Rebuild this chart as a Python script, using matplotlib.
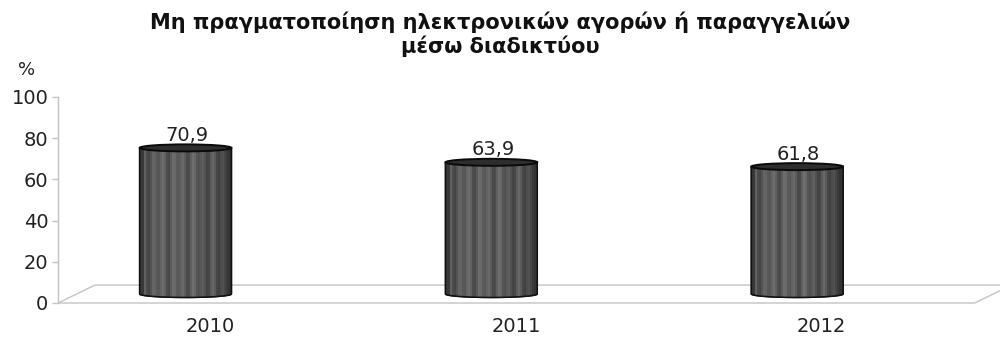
import numpy as np
import matplotlib
matplotlib.use("Agg")
import matplotlib.pyplot as plt
from matplotlib.patches import Polygon, Ellipse

# Share of people who did not buy or order anything online
years = ["2010", "2011", "2012"]
values = [70.9, 63.9, 61.8]
value_labels = ["70,9", "63,9", "61,8"]
y_ticks = [0, 20, 40, 60, 80, 100]

title = "Μη πραγματοποίηση ηλεκτρονικών αγορών ή παραγγελιών\nμέσω διαδικτύου"

plt.rcParams["font.family"] = ["DejaVu Sans"]
TEXT = "#222222"
GRID = "#c4c4c4"

fig = plt.figure(figsize=(10, 3.38), dpi=100)
ax = fig.add_axes([0.058, 35 / 338, 0.942, 206 / 338])

# pseudo-3D geometry (data units)
depth_dx, depth_dy = 0.121, 8.7     # floor back edge offset
base = 4.4                          # cylinder base sits mid-depth
cyl_w = 0.30
ell_h = 3.4
x_left, x_right = -0.417, 2.58

# floor
floor = Polygon([(x_left, 0), (x_right, 0),
                 (x_right + depth_dx, depth_dy), (x_left + depth_dx, depth_dy)],
                closed=True, facecolor="white", edgecolor=GRID, lw=1.0,
                zorder=1, clip_on=False)
ax.add_patch(floor)

# vertical stripe shading for the cylinder body
n = 46
t = np.linspace(0, 1, n)
shade = 0.34 + 0.06 * np.sin(np.pi * t) - 0.07 * t + 0.055 * np.sin(t * 57.0) + 0.03 * np.cos(t * 31.0)
shade[:2] = 0.22
shade[-2:] = 0.20
stripes = np.tile(shade, (2, 1))

for i, v in enumerate(values):
    cx = i
    top = base + v
    ang = np.linspace(np.pi, 2 * np.pi, 60)
    bottom_arc = [(cx + cyl_w / 2 * np.cos(a), base + ell_h / 2 * np.sin(a)) for a in ang]
    pts = [(cx - cyl_w / 2, top)] + bottom_arc + [(cx + cyl_w / 2, top)]
    body = Polygon(pts, closed=True, facecolor="#3c3c3c", edgecolor="#111111",
                   lw=1.1, zorder=3)
    ax.add_patch(body)
    im = ax.imshow(stripes, cmap="gray", vmin=0, vmax=1, aspect="auto",
                   extent=(cx - cyl_w / 2, cx + cyl_w / 2, base - ell_h / 2, top),
                   interpolation="nearest", zorder=3.5)
    im.set_clip_path(body)
    outline = Polygon(pts, closed=True, facecolor="none", edgecolor="#111111",
                      lw=1.1, zorder=4)
    ax.add_patch(outline)
    cap = Ellipse((cx, top), cyl_w, ell_h, facecolor="#2e2e2e",
                  edgecolor="#0a0a0a", lw=1.4, zorder=5)
    ax.add_patch(cap)

    ax.annotate(value_labels[i], xy=(cx, top), xytext=(1, 5),
                textcoords="offset points", ha="center", va="baseline",
                fontsize=14, color=TEXT, zorder=6)
    ax.text(cx + 0.08, -11.5, years[i], ha="center", va="center",
            fontsize=14, color=TEXT)

ax.set_xlim(-0.417, 2.663)
ax.set_ylim(0, 100)

# axes styling
for side in ["top", "right", "bottom"]:
    ax.spines[side].set_visible(False)
ax.spines["left"].set_color(GRID)
ax.spines["left"].set_linewidth(1.0)
ax.set_xticks([])
ax.set_yticks(y_ticks)
ax.tick_params(axis="y", direction="out", length=4, width=1, color=GRID,
               labelsize=14, labelcolor=TEXT, pad=3)
ax.patch.set_alpha(0)

fig.text(27 / 1000, 1 - 70 / 338, "%", ha="center", va="center",
         fontsize=13, color=TEXT)
fig.text(0.5, 1 - 34 / 338, title, ha="center", va="center",
         fontsize=15, fontweight="bold", color="#111111", linespacing=1.15)

fig.savefig("out.png", dpi=100)
